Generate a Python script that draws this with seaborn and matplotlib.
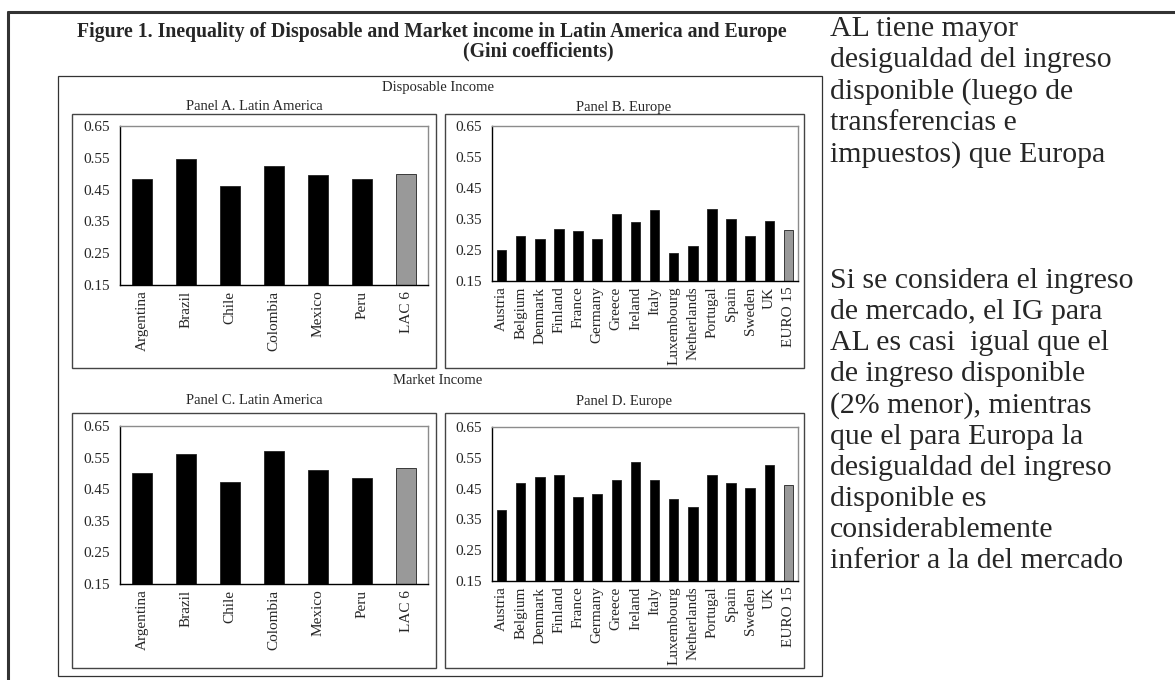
import matplotlib
matplotlib.use("Agg")
import matplotlib.pyplot as plt
import seaborn as sns
from matplotlib.patches import Rectangle
from matplotlib.lines import Line2D

# ---- data (Gini coefficients) ----
la_countries = ['Argentina', 'Brazil', 'Chile', 'Colombia', 'Mexico', 'Peru', 'LAC 6']
eu_countries = ['Austria', 'Belgium', 'Denmark', 'Finland', 'France', 'Germany', 'Greece',
                'Ireland', 'Italy', 'Luxembourg', 'Netherlands', 'Portugal', 'Spain',
                'Sweden', 'UK', 'EURO 15']

la_disposable = [0.484, 0.547, 0.460, 0.525, 0.497, 0.484, 0.500]
eu_disposable = [0.249, 0.295, 0.287, 0.318, 0.311, 0.285, 0.366, 0.339, 0.378,
                 0.241, 0.263, 0.383, 0.350, 0.294, 0.345, 0.315]
la_market = [0.501, 0.562, 0.473, 0.570, 0.511, 0.486, 0.517]
eu_market = [0.380, 0.469, 0.488, 0.495, 0.423, 0.432, 0.477, 0.535, 0.479,
             0.415, 0.391, 0.495, 0.469, 0.453, 0.527, 0.461]

y_ticks = [0.15, 0.25, 0.35, 0.45, 0.55, 0.65]

text_block1 = "AL tiene mayor\ndesigualdad del ingreso\ndisponible (luego de\ntransferencias e\nimpuestos) que Europa"
text_block2 = ("Si se considera el ingreso\nde mercado, el IG para\nAL es casi  igual que el\n"
               "de ingreso disponible\n(2% menor), mientras\nque el para Europa la\n"
               "desigualdad del ingreso\ndisponible es\nconsiderablemente\ninferior a la del mercado")

sns.set_style("white")
plt.rcParams['font.family'] = ['Liberation Serif', 'DejaVu Serif']

W, H = 1175, 680
fig = plt.figure(figsize=(W / 100, H / 100), dpi=100)


def fx(x):
    return x / W


def fy(y):
    return 1 - y / H


def add_box(x0, y0, x1, y1, color, lw):
    fig.add_artist(Rectangle((fx(x0), fy(y1)), fx(x1 - x0), (y1 - y0) / H,
                             fill=False, edgecolor=color, lw=lw,
                             transform=fig.transFigure))


def panel(rect, names, values, gap_color):
    x0, y0, x1, y1 = rect
    ax = fig.add_axes([fx(x0), fy(y1), fx(x1 - x0), (y1 - y0) / H])
    colors = ['black'] * (len(names) - 1) + [gap_color]
    wid = 0.45 if len(names) < 10 else 0.5
    sns.barplot(x=names, y=values, hue=names, palette=colors, legend=False,
                width=wid, edgecolor='#222222', linewidth=0.6, ax=ax, saturation=1)
    ax.set_ylim(0.15, 0.65)
    ax.set_xlim(-0.5, len(names) - 0.5)
    ax.set_yticks(y_ticks)
    ax.set_yticklabels([f"{t:.2f}" for t in y_ticks], fontsize=11)
    ax.set_xticks(range(len(names)))
    ax.set_xticklabels(names, rotation=90, fontsize=11)
    ax.set_xticks([i - 0.5 for i in range(len(names) + 1)], minor=True)
    ax.tick_params(axis='x', which='major', length=0, pad=4)
    ax.tick_params(axis='x', which='minor', length=5, width=0.8, direction='out', color='black')
    ax.tick_params(axis='y', length=5, width=0.8, direction='out', color='black', pad=2)
    for s in ['top', 'right']:
        ax.spines[s].set_color('#8c8c8c')
        ax.spines[s].set_linewidth(1.0)
    for s in ['left', 'bottom']:
        ax.spines[s].set_color('black')
        ax.spines[s].set_linewidth(1.0)
    ax.set_xlabel('')
    ax.set_ylabel('')
    return ax


# outer frame and inner box
fig.add_artist(Line2D([fx(8), 1], [fy(12), fy(12)], color='#333333', lw=2.2, transform=fig.transFigure))
fig.add_artist(Line2D([fx(8), fx(8)], [fy(12), 0], color='#333333', lw=2.2, transform=fig.transFigure))
add_box(58, 76, 822, 676, '#333333', 0.9)

# titles
fig.text(fx(432), fy(32), 'Figure 1. Inequality of Disposable and Market income in Latin America and Europe',
         ha='center', va='center', fontsize=14.2, fontweight='bold')
fig.text(fx(538), fy(51), '(Gini coefficients)', ha='center', va='center', fontsize=14.2, fontweight='bold')
fig.text(fx(438), fy(88), 'Disposable Income', ha='center', va='center', fontsize=10.5)
fig.text(fx(438), fy(380), 'Market Income', ha='center', va='center', fontsize=10.5)
fig.text(fx(254), fy(107), 'Panel A. Latin America', ha='center', va='center', fontsize=10.5)
fig.text(fx(624), fy(107), 'Panel B. Europe', ha='center', va='center', fontsize=10.5)
fig.text(fx(254), fy(401), 'Panel C. Latin America', ha='center', va='center', fontsize=10.5)
fig.text(fx(624), fy(401), 'Panel D. Europe', ha='center', va='center', fontsize=10.5)

# panel frames
add_box(72, 114, 436, 368, '#444444', 1.0)
add_box(445, 114, 804, 368, '#444444', 1.0)
add_box(72, 413, 436, 668, '#444444', 1.0)
add_box(445, 413, 804, 668, '#444444', 1.0)

panel((120, 126, 428, 285), la_countries, la_disposable, '#999999')
panel((492, 126, 798, 281), eu_countries, eu_disposable, '#999999')
panel((120, 426, 428, 584), la_countries, la_market, '#999999')
panel((492, 427, 798, 581), eu_countries, eu_market, '#999999')

# commentary on the right
fig.text(fx(830), fy(16), text_block1, ha='left', va='top', fontsize=21.5, linespacing=1.25)
fig.text(fx(830), fy(268), text_block2, ha='left', va='top', fontsize=21.5, linespacing=1.25)

fig.savefig('out.png', dpi=100, facecolor='white')
